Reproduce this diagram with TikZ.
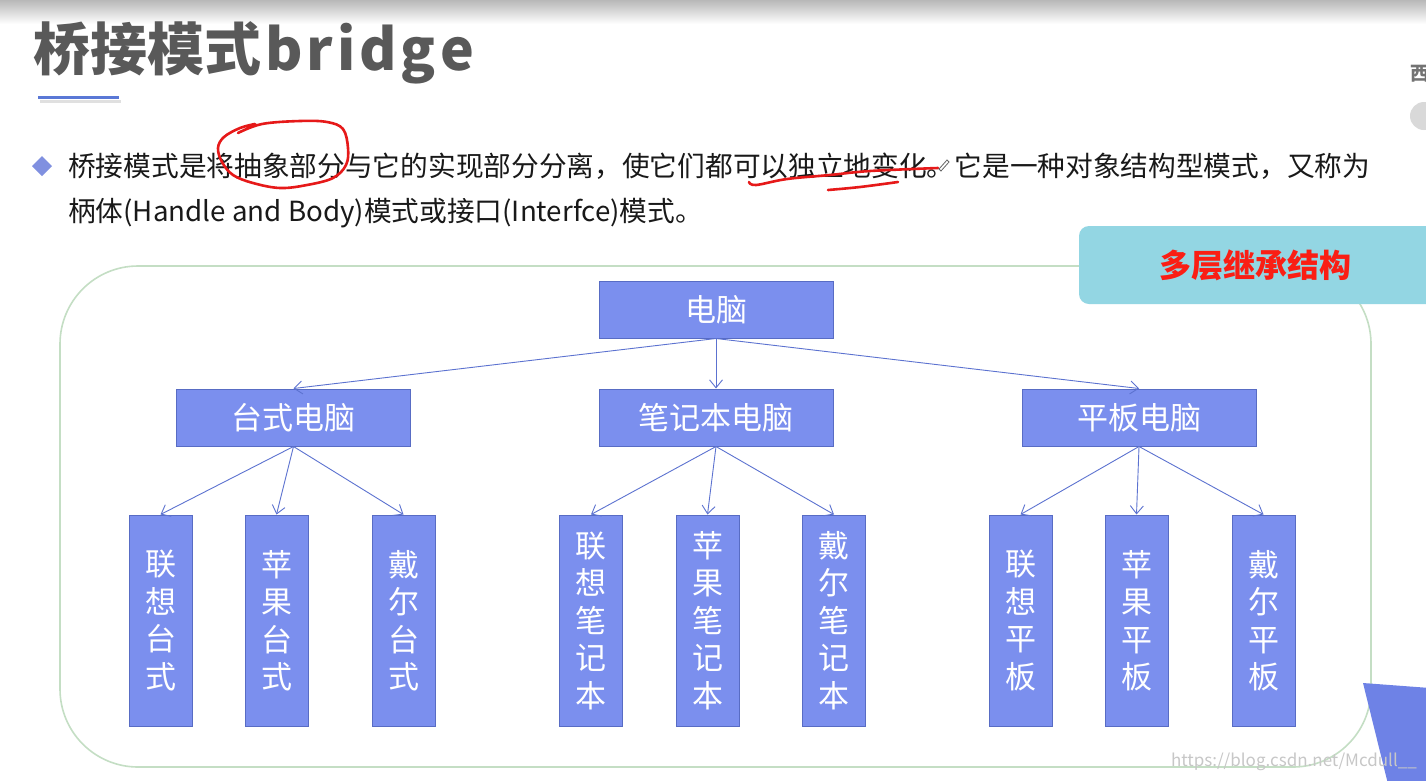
\documentclass[tikz,border=0pt]{standalone}
\usepackage{fontspec}
\setmainfont{Noto Sans CJK SC}
\usetikzlibrary{arrows.meta}
\definecolor{boxfill}{RGB}{123,143,238}
\definecolor{boxline}{RGB}{88,108,196}
\definecolor{arr}{RGB}{92,114,208}
\definecolor{framecol}{RGB}{196,222,196}
\definecolor{tabcol}{RGB}{147,214,227}
\definecolor{redtxt}{RGB}{250,30,20}
\definecolor{inkred}{RGB}{230,25,25}
\definecolor{titlegray}{RGB}{89,89,89}
\definecolor{ulblue}{RGB}{90,120,214}
\definecolor{bulletcol}{RGB}{128,144,224}
\definecolor{tricol}{RGB}{110,130,230}
\definecolor{bodytext}{RGB}{25,25,25}
\begin{document}
\begin{tikzpicture}[x=1pt,y=-1pt,
  box/.style={draw=boxline, fill=boxfill, line width=1pt, text=white, inner sep=0pt,
    font=\fontsize{31}{37.5}\selectfont, align=center},
  wide/.style={box, minimum width=234pt, minimum height=57pt},
  tall/.style={box, minimum width=63pt, minimum height=211pt},
  link/.style={draw=arr, line width=0.9pt, -{Straight Barb[length=8pt,width=13pt]}},
  redmark/.style={draw=inkred, line width=2.6pt, line cap=round, line join=round},
  bodyline/.style={anchor=west, inner sep=0pt, text=bodytext, font=\fontsize{27.7}{27.7}\selectfont},
]
\useasboundingbox (0,0) rectangle (1426,780);
\fill[white] (0,0) rectangle (1426,780);
% top gradient
\shade[top color=black!28, bottom color=white] (0,0) rectangle (1426,24);

% title
\node[anchor=base west, inner sep=0pt, text=titlegray, font=\fontsize{57}{57}\selectfont\bfseries] (title) at (33,70) {桥接模式\kern4pt b\kern4pt r\kern4pt i\kern4pt d\kern4pt g\kern4pt e};
\draw[black!12, line width=3pt] (40,101) -- (121,101);
\draw[ulblue, line width=3pt] (38,97) -- (119,97);

% right edge fragments
\node[anchor=west, inner sep=0pt, text=black!55, font=\fontsize{19}{19}\selectfont\bfseries] (xi) at (1410,74) {西};
\fill[black!15] (1424,116) circle (14);

% bullet and text
\fill[bulletcol] (42,156) -- (52,166) -- (42,176) -- (32,166) -- cycle;
\node[bodyline] (l1) at (68,166) {桥接模式是将抽象部分与它的实现部分分离，使它们都可以独立地变化。它是一种对象结构型模式，又称为};
\node[bodyline] (l2) at (68,213) {柄体(Handle and Body)模式或接口(Interfce)模式。};

% red annotations
\draw[redmark] plot[smooth, tension=0.6] coordinates {(238,133) (262,124) (300,121) (327,122) (343,129) (348,148) (346,165) (333,178) (307,185) (280,188) (253,183) (233,175) (222,162) (218,148) (224,137) (240,128) (255,124)};
\draw[redmark] plot[smooth, tension=0.6] coordinates {(749,182) (756,185) (787,179) (830,175) (870,171) (938,168)};
\draw[redmark] plot[smooth, tension=0.6] coordinates {(828,190) (860,187) (898,182)};
% pen cursor
\draw[black!60, line width=0.8pt] (939,169) -- (947,160) -- (949,162) -- (941,171) -- cycle;

% container
\draw[framecol, line width=1.6pt, rounded corners=78pt] (60,266) rectangle (1371,767);

% tab
\fill[tabcol, rounded corners=10pt] (1079,226) rectangle (1446,304);
\node[text=redtxt, inner sep=0pt, font=\fontsize{32}{32}\selectfont\bfseries] (tabtext) at (1255,265) {多层继承结构};

% nodes
\node[wide] (pc) at (716,309.5) {电脑};
\node[wide] (desk) at (293.5,417.5) {台式电脑};
\node[wide] (note) at (716,417.5) {笔记本电脑};
\node[wide] (pad) at (1139,417.5) {平板电脑};

\node[tall] (d1) at (160.5,620.5) {联\\想\\台\\式};
\node[tall] (d2) at (276.5,620.5) {苹\\果\\台\\式};
\node[tall] (d3) at (403.5,620.5) {戴\\尔\\台\\式};
\node[tall] (n1) at (591,620.5) {联\\想\\笔\\记\\本};
\node[tall] (n2) at (707.5,620.5) {苹\\果\\笔\\记\\本};
\node[tall] (n3) at (834,620.5) {戴\\尔\\笔\\记\\本};
\node[tall] (p1) at (1020.5,620.5) {联\\想\\平\\板};
\node[tall] (p2) at (1136.5,620.5) {苹\\果\\平\\板};
\node[tall] (p3) at (1263.5,620.5) {戴\\尔\\平\\板};

% connectors
\foreach \c in {desk,note,pad} \draw[link] (pc.south) -- (\c.north);
\foreach \c in {d1,d2,d3} \draw[link] (desk.south) -- (\c.north);
\foreach \c in {n1,n2,n3} \draw[link] (note.south) -- (\c.north);
\foreach \c in {p1,p2,p3} \draw[link] (pad.south) -- (\c.north);

% corner triangle
\fill[tricol] (1363,683) -- (1430,688) -- (1430,784) -- (1388,784) -- cycle;

% watermark
\node[anchor=east, inner sep=0pt, text=black!22, font=\fontsize{17}{17}\selectfont] (wm) at (1417,762) {https://blog.csdn.net/Mcdull\_\_};
\end{tikzpicture}
\end{document}
